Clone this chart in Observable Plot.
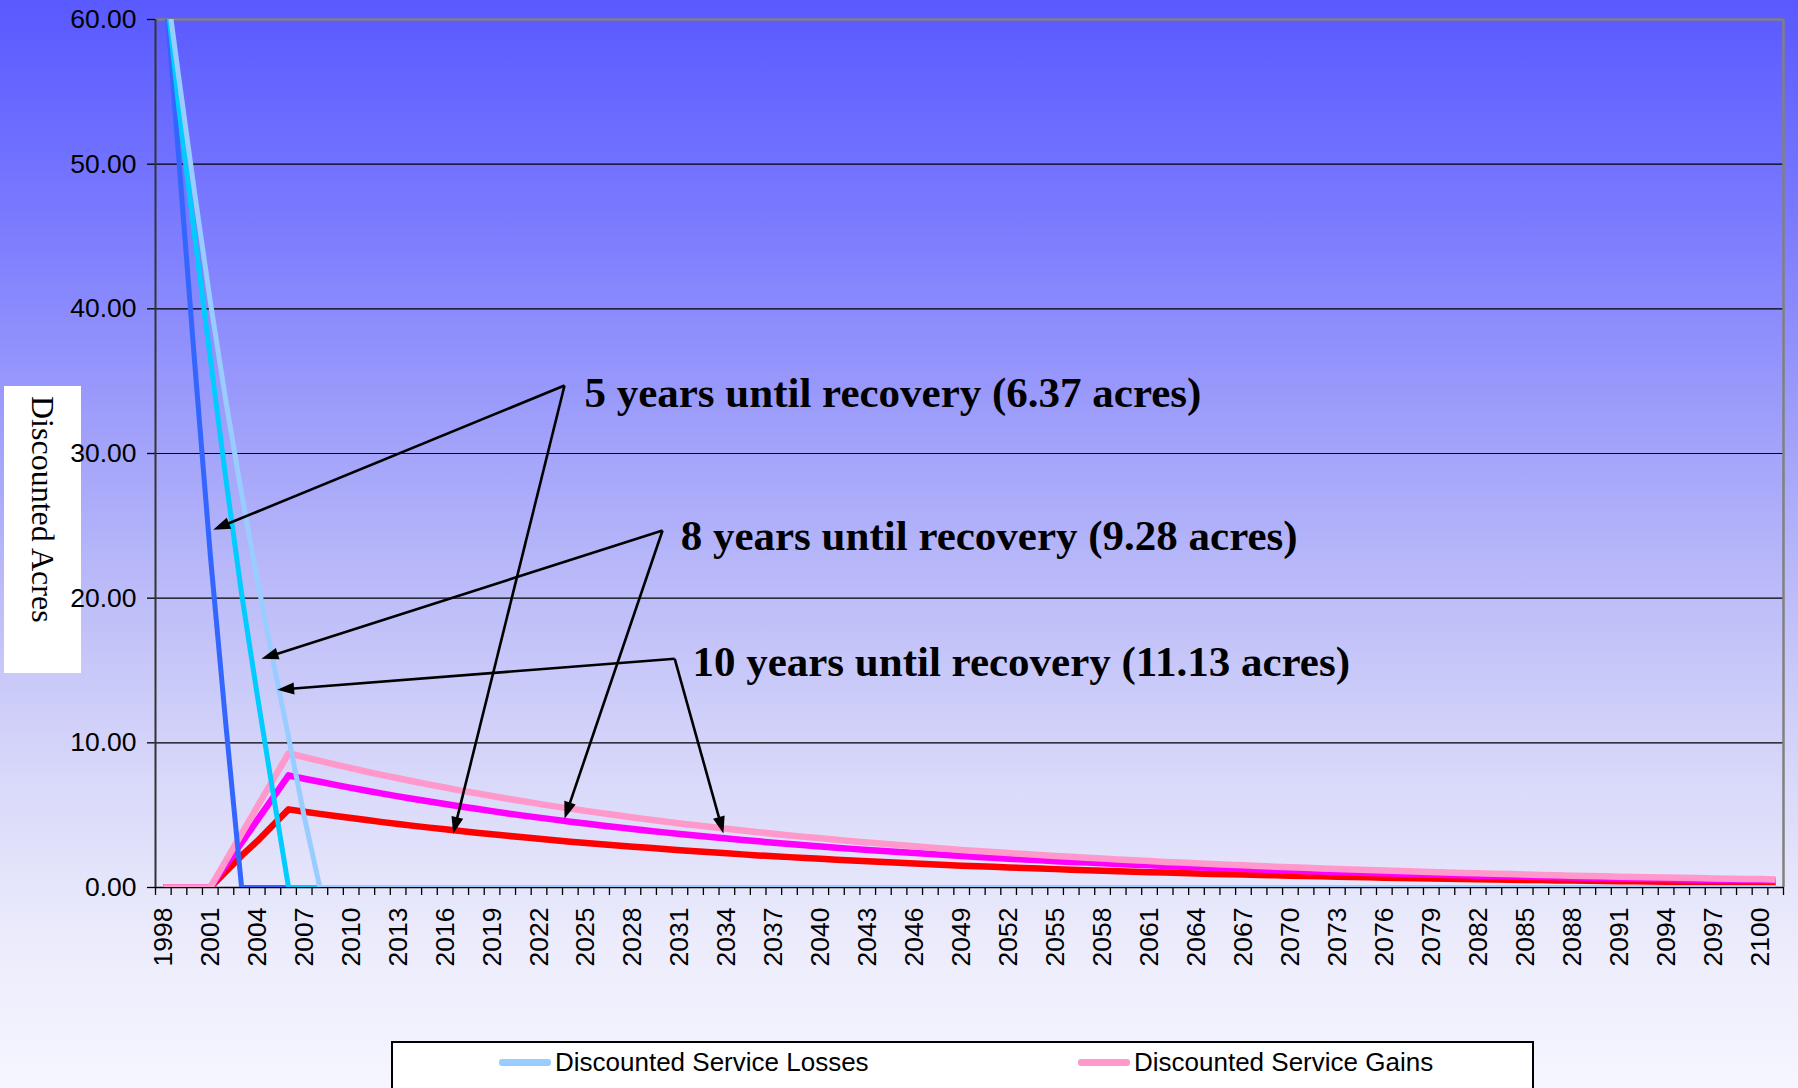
<!DOCTYPE html>
<html>
<head>
<meta charset="utf-8">
<script src="https://cdn.jsdelivr.net/npm/d3@7"></script>
<script src="https://cdn.jsdelivr.net/npm/@observablehq/plot@0.6"></script>
<style>
  html, body { margin: 0; padding: 0; }
  body {
    width: 1798px; height: 1088px; overflow: hidden; position: relative;
    background: linear-gradient(to bottom, #5959ff 0%, #7a7aff 20%, #9d9dfb 38%, #bdbdf9 55%, #d9d9fa 72%, #ebebfc 86%, #f6f6ff 100%);
    font-family: "Liberation Sans", Arial, sans-serif;
  }
  #ytitle {
    position: absolute; left: 4px; top: 386px; width: 77px; height: 287px;
    background: #fff; display: flex; align-items: flex-start; justify-content: center; box-sizing: border-box; padding-top: 10px;
  }
  #ytitle span { writing-mode: vertical-rl; font-family: "Liberation Serif", "Times New Roman", serif; font-size: 32px; color: #000; }
  #chart { position: absolute; left: 0; top: 0; }
  #legend {
    position: absolute; left: 391px; top: 1041px; width: 1143px; height: 70px;
    background: #fff; border: 2px solid #000; box-sizing: border-box;
  }
  .item { position: absolute; top: 4px; height: 30px; display: flex; align-items: center; font-size: 26px; color: #000; }
  .sw { width: 52px; height: 7px; border-radius: 3px; margin-right: 4px; }
</style>
</head>
<body>
<div id="ytitle"><span>Discounted Acres</span></div>
<div id="chart"></div>
<div id="legend">
  <div class="item" style="left:106px"><div class="sw" style="background:#99ccff"></div><span>Discounted Service Losses</span></div>
  <div class="item" style="left:685px"><div class="sw" style="background:#ff99cc"></div><span>Discounted Service Gains</span></div>
</div>
<script>
// ---------- DATA ----------
const years = [
  1998,1999,2000,2001,2002,2003,2004,2005,2006,2007,
  2008,2009,2010,2011,2012,2013,2014,2015,2016,2017,
  2018,2019,2020,2021,2022,2023,2024,2025,2026,2027,
  2028,2029,2030,2031,2032,2033,2034,2035,2036,2037,
  2038,2039,2040,2041,2042,2043,2044,2045,2046,2047,
  2048,2049,2050,2051,2052,2053,2054,2055,2056,2057,
  2058,2059,2060,2061,2062,2063,2064,2065,2066,2067,
  2068,2069,2070,2071,2072,2073,2074,2075,2076,2077,
  2078,2079,2080,2081,2082,2083,2084,2085,2086,2087,
  2088,2089,2090,2091,2092,2093,2094,2095,2096,2097,
  2098,2099,2100,2101
];

const xTickLabels = [1998,2001,2004,2007,2010,2013,2016,2019,2022,2025,2028,2031,2034,2037,2040,2043,2046,2049,2052,2055,2058,2061,2064,2067,2070,2073,2076,2079,2082,2085,2088,2091,2094,2097,2100];
const yTicks = [0, 10, 20, 30, 40, 50, 60];
const gridValues = [10, 20, 30, 40, 50];

// Discounted service losses (5, 8, 10 years until recovery)
const lossesFiveYr = [
  64.0,50.2,36.3,23.0,11.2,0,0,0,0,0,
  0,0,0,0,0,0,0,0,0,0,
  0,0,0,0,0,0,0,0,0,0,
  0,0,0,0,0,0,0,0,0,0,
  0,0,0,0,0,0,0,0,0,0,
  0,0,0,0,0,0,0,0,0,0,
  0,0,0,0,0,0,0,0,0,0,
  0,0,0,0,0,0,0,0,0,0,
  0,0,0,0,0,0,0,0,0,0,
  0,0,0,0,0,0,0,0,0,0,
  0,0,0,0
];
const lossesEightYr = [
  64.0,53.8,45.0,36.6,28.2,20.3,13.3,6.6,0,0,
  0,0,0,0,0,0,0,0,0,0,
  0,0,0,0,0,0,0,0,0,0,
  0,0,0,0,0,0,0,0,0,0,
  0,0,0,0,0,0,0,0,0,0,
  0,0,0,0,0,0,0,0,0,0,
  0,0,0,0,0,0,0,0,0,0,
  0,0,0,0,0,0,0,0,0,0,
  0,0,0,0,0,0,0,0,0,0,
  0,0,0,0,0,0,0,0,0,0,
  0,0,0,0
];
const lossesTenYr = [
  64.0,55.9,48.0,40.5,33.6,27.2,21.3,15.7,10.4,4.9,
  0,0,0,0,0,0,0,0,0,0,
  0,0,0,0,0,0,0,0,0,0,
  0,0,0,0,0,0,0,0,0,0,
  0,0,0,0,0,0,0,0,0,0,
  0,0,0,0,0,0,0,0,0,0,
  0,0,0,0,0,0,0,0,0,0,
  0,0,0,0,0,0,0,0,0,0,
  0,0,0,0,0,0,0,0,0,0,
  0,0,0,0,0,0,0,0,0,0,
  0,0,0,0
];

// Discounted service gains (5, 8, 10 years until recovery)
const gainsFiveYr = [
  0,0,0,0,1.1,2.2,3.2,4.3,
  5.40,5.24,5.09,4.94,4.80,4.66,4.52,4.39,4.26,4.14,
  4.02,3.90,3.79,3.68,3.57,3.47,3.37,3.27,3.17,3.08,
  2.99,2.90,2.82,2.74,2.66,2.58,2.50,2.43,2.36,2.29,
  2.22,2.16,2.10,2.04,1.98,1.92,1.86,1.81,1.76,1.71,
  1.66,1.61,1.56,1.51,1.47,1.43,1.39,1.35,1.31,1.27,
  1.23,1.20,1.16,1.13,1.09,1.06,1.03,1.00,0.97,0.94,
  0.92,0.89,0.86,0.84,0.81,0.79,0.77,0.75,0.72,0.70,
  0.68,0.66,0.64,0.62,0.61,0.59,0.57,0.55,0.54,0.52,
  0.51,0.49,0.48,0.46,0.45,0.44,0.43,0.41,0.40,0.39,
  0.38,0.37,0.36,0.35,0.34,0.33
];
const gainsEightYr = [
  0,0,0,0,1.55,3.1,4.65,6.2,
  7.75,7.52,7.31,7.09,6.89,6.69,6.49,6.30,6.12,5.94,
  5.77,5.60,5.44,5.28,5.12,4.97,4.83,4.69,4.55,4.42,
  4.29,4.17,4.04,3.93,3.81,3.70,3.59,3.49,3.39,3.29,
  3.19,3.10,3.01,2.92,2.84,2.75,2.67,2.60,2.52,2.45,
  2.38,2.31,2.24,2.17,2.11,2.05,1.99,1.93,1.88,1.82,
  1.77,1.72,1.67,1.62,1.57,1.53,1.48,1.44,1.40,1.35,
  1.32,1.28,1.24,1.20,1.17,1.13,1.10,1.07,1.04,1.01,
  0.98,0.95,0.92,0.90,0.87,0.84,0.82,0.80,0.77,0.75,
  0.73,0.71,0.69,0.67,0.65,0.63,0.61,0.59,0.58,0.56,
  0.54,0.53,0.51,0.50,0.48,0.47
];
const gainsTenYr = [
  0,0,0,0,1.86,3.71,5.57,7.42,
  9.28,9.01,8.75,8.49,8.25,8.00,7.77,7.55,7.33,7.11,
  6.91,6.70,6.51,6.32,6.13,5.96,5.78,5.61,5.45,5.29,
  5.14,4.99,4.84,4.70,4.56,4.43,4.30,4.18,4.06,3.94,
  3.82,3.71,3.60,3.50,3.40,3.30,3.20,3.11,3.02,2.93,
  2.85,2.76,2.68,2.60,2.53,2.45,2.38,2.31,2.25,2.18,
  2.12,2.06,2.00,1.94,1.88,1.83,1.77,1.72,1.67,1.62,
  1.57,1.53,1.48,1.44,1.40,1.36,1.32,1.28,1.24,1.21,
  1.17,1.14,1.10,1.07,1.04,1.01,0.98,0.95,0.93,0.90,
  0.87,0.85,0.82,0.80,0.77,0.75,0.73,0.71,0.69,0.67,
  0.65,0.63,0.61,0.59,0.58,0.56
];

// Annotations (data coordinates: year, acres)
const annotText = [
  "5 years until recovery (6.37 acres)",
  "8 years until recovery (9.28 acres)",
  "10 years until recovery (11.13 acres)"
];
const annotX = [2024.9, 2031.05, 2031.8];
const annotY = [34.2, 24.26, 15.55];
const arrowFromX = [2023.63, 2023.63, 2029.89, 2029.89, 2030.67, 2030.67];
const arrowFromY = [34.70, 34.70, 24.68, 24.68, 15.81, 15.81];
const arrowToX   = [2001.19, 2016.52, 2004.27, 2023.63, 2005.27, 2033.78];
const arrowToY   = [24.73, 3.71, 15.81, 4.75, 13.67, 3.73];

// ---------- LAYOUT ----------
const W = 1798, H = 1040;
const mL = 155, mR = 15, mT = 19, mB = H - 887;
const xDomain = [years[0] - 0.5, years[years.length - 1] + 0.5];
const yDomain = [0, 60];
const sx = d3.scaleLinear(xDomain, [mL, W - mR]);
const sy = d3.scaleLinear(yDomain, [H - mB, mT]);

const tickPositions = years.map(y => y - 0.5).concat([years[years.length - 1] + 0.5]);

const headLen = 17, headW = 12;
const arrowHead = {
  draw(ctx) {
    ctx.moveTo(0, 0);
    ctx.lineTo(headW / 2, headLen);
    ctx.lineTo(-headW / 2, headLen);
    ctx.closePath();
  }
};
const arrows = arrowFromX.map((_, i) => {
  const px1 = sx(arrowFromX[i]), py1 = sy(arrowFromY[i]);
  const px2 = sx(arrowToX[i]), py2 = sy(arrowToY[i]);
  const dx = px2 - px1, dy = py2 - py1, len = Math.hypot(dx, dy);
  const ux = dx / len, uy = dy / len;
  return {
    x1: arrowFromX[i], y1: arrowFromY[i],
    x2: sx.invert(px2 - ux * headLen * 0.8), y2: sy.invert(py2 - uy * headLen * 0.8),
    tx: arrowToX[i], ty: arrowToY[i],
    angle: Math.atan2(dy, dx) * 180 / Math.PI + 90
  };
});
const annots = annotText.map((t, i) => ({text: t, x: annotX[i], y: annotY[i]}));

function seriesLine(values, color, width) {
  return Plot.line(years, {x: d => d, y: (d, i) => values[i], stroke: color, strokeWidth: width, clip: true, strokeLinejoin: "round", strokeLinecap: "butt"});
}

const chart = Plot.plot({
  width: W, height: H,
  marginLeft: mL, marginRight: mR, marginTop: mT, marginBottom: mB,
  x: {domain: xDomain, axis: null},
  y: {domain: yDomain, axis: null},
  style: {background: "transparent", fontFamily: "Liberation Sans, Arial, sans-serif", color: "#000", overflow: "visible"},
  marks: [
    Plot.ruleY(gridValues, {stroke: "#000", strokeWidth: 1.2}),
    Plot.ruleY([60], {stroke: "#808080", strokeWidth: 2.5}),
    Plot.ruleX([xDomain[1]], {stroke: "#808080", strokeWidth: 2.5}),
    Plot.ruleY([0], {stroke: "#000", strokeWidth: 1.5}),
    Plot.axisX(tickPositions, {tickSize: 8, tickFormat: () => "", stroke: "#000", strokeWidth: 1.3, label: null}),
    Plot.text(xTickLabels, {x: d => d, y: 0, text: d => String(d), rotate: -90, textAnchor: "end", lineAnchor: "middle", dy: 20, fontSize: 26.5, fill: "#000"}),
    Plot.axisY(yTicks, {tickSize: 8, tickPadding: 11, tickFormat: d => d.toFixed(2), fontSize: 26.5, stroke: "#000", strokeWidth: 1.3, label: null}),
    // gains
    seriesLine(gainsFiveYr, "#ff0000", 6.5),
    seriesLine(gainsEightYr, "#ff00ff", 6.5),
    seriesLine(gainsTenYr, "#ff99cc", 6.5),
    // losses
    seriesLine(lossesFiveYr, "#3366ff", 5),
    seriesLine(lossesEightYr, "#00ccff", 5),
    seriesLine(lossesTenYr, "#99ccff", 5),
    Plot.ruleX([xDomain[0]], {stroke: "#333", strokeWidth: 2}),
    // annotations
    Plot.link(arrows, {x1: "x1", y1: "y1", x2: "x2", y2: "y2", stroke: "#000", strokeWidth: 2.6}),
    Plot.dot(arrows, {x: "tx", y: "ty", symbol: arrowHead, rotate: "angle", fill: "#000", stroke: "none", r: 6}),
    Plot.text(annots, {x: "x", y: "y", text: "text", textAnchor: "start", lineAnchor: "middle", fontSize: 43, fontWeight: "bold", fontFamily: "Liberation Serif, Times New Roman, serif", fill: "#000"})
  ]
});
document.getElementById("chart").appendChild(chart);
</script>
</body>
</html>
